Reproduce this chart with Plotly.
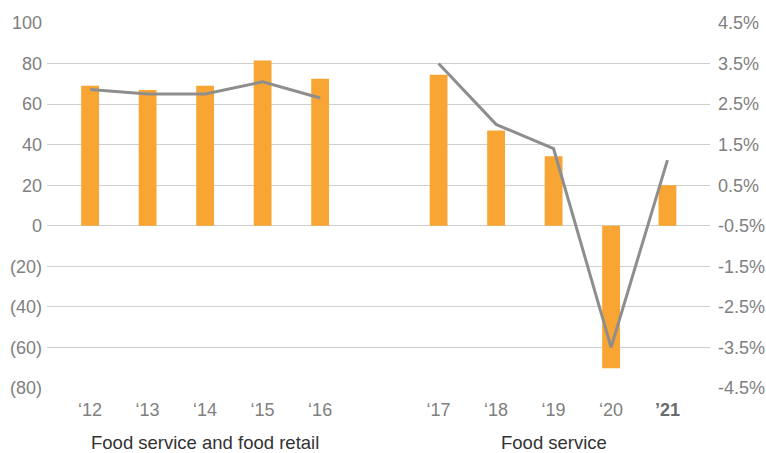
import plotly.graph_objects as go

categories = ["‘12", "‘13", "‘14", "‘15", "‘16", "‘17", "‘18", "‘19", "‘20", "’21"]
positions = [0, 1, 2, 3, 4, 6.06, 7.06, 8.06, 9.06, 10.04]
bar_values = [69, 67, 69, 81.5, 72.5, 74.5, 47, 34.3, -70.2, 20]
line_values = [2.86, 2.75, 2.75, 3.05, 2.65, 3.5, 2.0, 1.4, -3.5, 1.12]
left_ticks = [100, 80, 60, 40, 20, 0, -20, -40, -60, -80]
right_ticks = [4.5, 3.5, 2.5, 1.5, 0.5, -0.5, -1.5, -2.5, -3.5, -4.5]
groups = [("Food service and food retail", 2), ("Food service", 8.06)]

left_text = [f"({abs(v)})" if v < 0 else str(v) for v in left_ticks]
right_text = [f"{v:.1f}%" for v in right_ticks]
tick_text = [c if i < len(categories) - 1 else f"<b><span style='color:#6b6b6b'>{c}</span></b>"
             for i, c in enumerate(categories)]

# line with a break between the two groups
lx, ly = [], []
for i, (p, v) in enumerate(zip(positions, line_values)):
    if i > 0 and p - positions[i - 1] > 1.5:
        lx.append(None); ly.append(None)
    lx.append(p); ly.append(v)

FONT = "Liberation Sans"
fig = go.Figure()
fig.add_trace(go.Bar(x=positions, y=bar_values, width=0.31, marker_color="#F9A533",
                     marker_line_width=0, yaxis="y"))
fig.add_trace(go.Scatter(x=lx, y=ly, mode="lines", line=dict(color="#8E8E8E", width=3),
                         yaxis="y2", connectgaps=False))

fig.update_layout(
    width=766, height=453,
    margin=dict(l=47, r=56, t=23, b=65),
    plot_bgcolor="white", paper_bgcolor="white",
    showlegend=False,
    font=dict(family=FONT, size=18, color="#808080"),
    xaxis=dict(range=[-0.75, 10.78], tickvals=positions, ticktext=tick_text,
               showgrid=False, zeroline=False, showline=False, ticks="",
               ticklabelstandoff=9, automargin=False),
    yaxis=dict(range=[-80, 100], tickvals=left_ticks, ticktext=left_text,
               showgrid=True, gridcolor="#CFCFCF", gridwidth=1,
               zeroline=True, zerolinecolor="#CFCFCF", zerolinewidth=1,
               showline=False, ticks="", ticklabelstandoff=4, automargin=False),
    yaxis2=dict(range=[-4.5, 4.5], tickvals=right_ticks, ticktext=right_text,
                overlaying="y", side="right", showgrid=False, zeroline=False,
                showline=False, ticks="", ticklabelstandoff=7, automargin=False),
)

for label, pos in groups:
    fig.add_annotation(text=label, x=pos, xref="x", y=-0.148, yref="paper",
                       yanchor="middle", showarrow=False,
                       font=dict(family=FONT, size=18.5, color="#333333"))

fig.write_html("out.html")
